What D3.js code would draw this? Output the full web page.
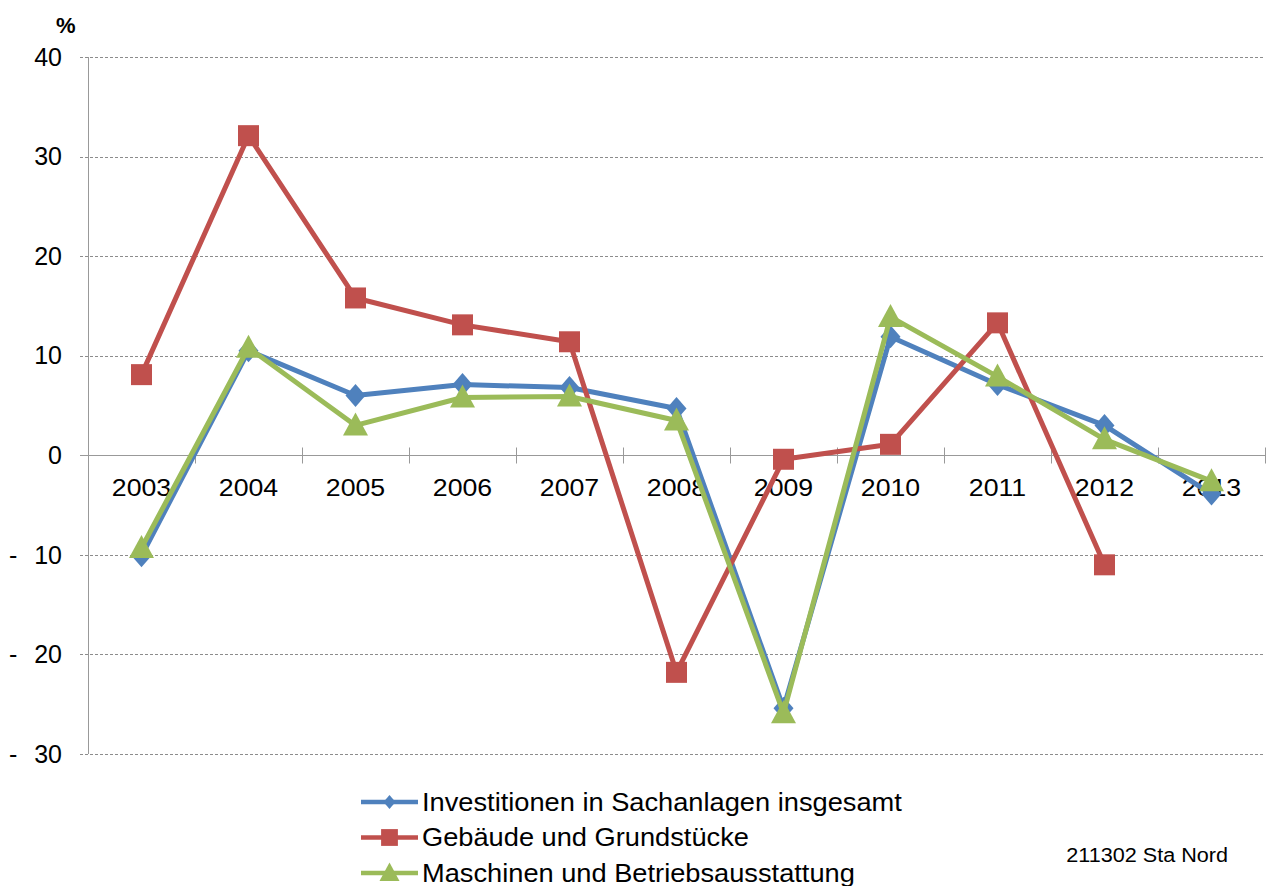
<!DOCTYPE html>
<html>
<head>
<meta charset="utf-8">
<script src="https://cdn.jsdelivr.net/npm/d3@7"></script>
<style>
  body { margin: 0; background: #fff; }
  svg text { font-family: "Liberation Sans", Arial, sans-serif; fill: #000; }
</style>
</head>
<body>
<div id="container"></div>
<script>
// data
var years = ["2003", "2004", "2005", "2006", "2007", "2008", "2009", "2010", "2011", "2012", "2013"];
var investitionen = [-10.1, 10.5, 6.0, 7.1, 6.8, 4.7, -25.4, 11.9, 7.1, 3.0, -3.9];
var gebaeude = [8.1, 32.1, 15.8, 13.1, 11.4, -21.8, -0.4, 1.1, 13.3, -11.0, null];
var maschinen = [-9.3, 10.8, 3.0, 5.8, 5.9, 3.5, -25.9, 13.9, 7.9, 1.6, -2.6];
var yTicks = [40, 30, 20, 10, 0, -10, -20, -30];
var seriesNames = ["Investitionen in Sachanlagen insgesamt", "Gebäude und Grundstücke", "Maschinen und Betriebsausstattung"];

var W = 1268, H = 886;
var plot = {left: 88, right: 1265, top: 57, bottom: 754};

var svg = d3.select("#container")
  .append("svg")
  .attr("width", W)
  .attr("height", H);

var x = d3.scaleBand()
  .domain(years)
  .range([plot.left, plot.right]);

var y = d3.scaleLinear()
  .domain([-30, 40])
  .range([plot.bottom, plot.top]);

// horizontal grid
svg.append("g")
  .selectAll("line")
  .data(yTicks.filter(function(d) { return d !== 0; }))
  .enter()
  .append("line")
  .attr("x1", 80)
  .attr("x2", plot.right)
  .attr("y1", function(d) { return Math.round(y(d)) + 0.5; })
  .attr("y2", function(d) { return Math.round(y(d)) + 0.5; })
  .attr("stroke", "#8c8c8c")
  .attr("stroke-dasharray", "3,2");

// y axis line
svg.append("line")
  .attr("x1", plot.left + 0.5).attr("x2", plot.left + 0.5)
  .attr("y1", plot.top).attr("y2", plot.bottom)
  .attr("stroke", "#999");

// zero line with crossing ticks
var y0 = Math.round(y(0)) + 0.5;
svg.append("line")
  .attr("x1", 80).attr("x2", plot.right)
  .attr("y1", y0).attr("y2", y0)
  .attr("stroke", "#999");

var tickXs = years.map(function(d) { return x(d); }).concat([plot.right]);
svg.append("g")
  .selectAll("line")
  .data(tickXs)
  .enter()
  .append("line")
  .attr("x1", function(d) { return Math.round(d) + 0.5; })
  .attr("x2", function(d) { return Math.round(d) + 0.5; })
  .attr("y1", y0 - 8)
  .attr("y2", y0 + 8)
  .attr("stroke", "#999");

// y labels
var yl = svg.append("g")
  .selectAll("g")
  .data(yTicks)
  .enter()
  .append("g")
  .attr("transform", function(d) { return "translate(0," + y(d) + ")"; });

yl.append("text")
  .attr("x", 62)
  .attr("dy", "0.35em")
  .attr("text-anchor", "end")
  .style("font-size", "25px")
  .text(function(d) { return Math.abs(d); });

yl.filter(function(d) { return d < 0; })
  .append("text")
  .attr("x", 9)
  .attr("dy", "0.35em")
  .style("font-size", "25px")
  .text("-");

svg.append("text")
  .attr("x", 56)
  .attr("y", 33)
  .style("font-size", "22px")
  .style("font-weight", "bold")
  .text("%");

// category labels (stretched a little, as in the original)
svg.append("g")
  .selectAll("text")
  .data(years)
  .enter()
  .append("text")
  .attr("transform", function(d) {
    return "translate(" + (x(d) + x.bandwidth() / 2) + ",496) scale(1.09,1)";
  })
  .attr("text-anchor", "middle")
  .style("font-size", "24.5px")
  .text(function(d) { return d; });

var colors = ["#4F81BD", "#C0504D", "#9BBB59"];

// marker shapes, half width / half height
function marker(i, k) {
  if (i === 0) return "M0," + (-11.5 * k) + "L" + (10 * k) + ",0L0," + (11.5 * k) + "L" + (-10 * k) + ",0Z";
  if (i === 1) return "M" + (-10.5 * k) + "," + (-10.5 * k) + "h" + (21 * k) + "v" + (21 * k) + "h" + (-21 * k) + "Z";
  return "M0," + (-13 * k) + "L" + (12.5 * k) + "," + (10 * k) + "L" + (-12.5 * k) + "," + (10 * k) + "Z";
}

var allSeries = [investitionen, gebaeude, maschinen];

var line = d3.line()
  .defined(function(d) { return d.v !== null; })
  .x(function(d) { return x(d.year) + x.bandwidth() / 2; })
  .y(function(d) { return y(d.v); });

allSeries.forEach(function(vals, i) {
  var pts = years.map(function(yr, j) { return {year: yr, v: vals[j]}; });
  var g = svg.append("g");
  g.append("path")
    .datum(pts)
    .attr("d", line)
    .attr("fill", "none")
    .attr("stroke", colors[i])
    .attr("stroke-width", 5)
    .attr("stroke-linejoin", "round");
  g.selectAll("path.m")
    .data(pts.filter(function(d) { return d.v !== null; }))
    .enter()
    .append("path")
    .attr("class", "m")
    .attr("transform", function(d) {
      return "translate(" + (x(d.year) + x.bandwidth() / 2) + "," + y(d.v) + ")";
    })
    .attr("d", marker(i, 1))
    .attr("fill", colors[i]);
});

// legend
var leg = svg.append("g")
  .selectAll("g")
  .data(seriesNames)
  .enter()
  .append("g")
  .attr("transform", function(d, i) { return "translate(361," + (802 + i * 35.5) + ")"; });

leg.append("line")
  .attr("x1", 0).attr("x2", 57)
  .attr("stroke", function(d, i) { return colors[i]; })
  .attr("stroke-width", 4.5);

leg.append("path")
  .attr("transform", "translate(28.5,0)")
  .attr("d", function(d, i) { return marker(i, i === 0 ? 0.6 : 0.8); })
  .attr("fill", function(d, i) { return colors[i]; });

leg.append("text")
  .attr("transform", "translate(61,0) scale(1.09,1)")
  .attr("dy", "0.35em")
  .style("font-size", "25px")
  .text(function(d) { return d; });

svg.append("text")
  .attr("transform", "translate(1228,862) scale(1.03,1)")
  .attr("text-anchor", "end")
  .style("font-size", "21px")
  .text("211302 Sta Nord");
</script>
</body>
</html>
